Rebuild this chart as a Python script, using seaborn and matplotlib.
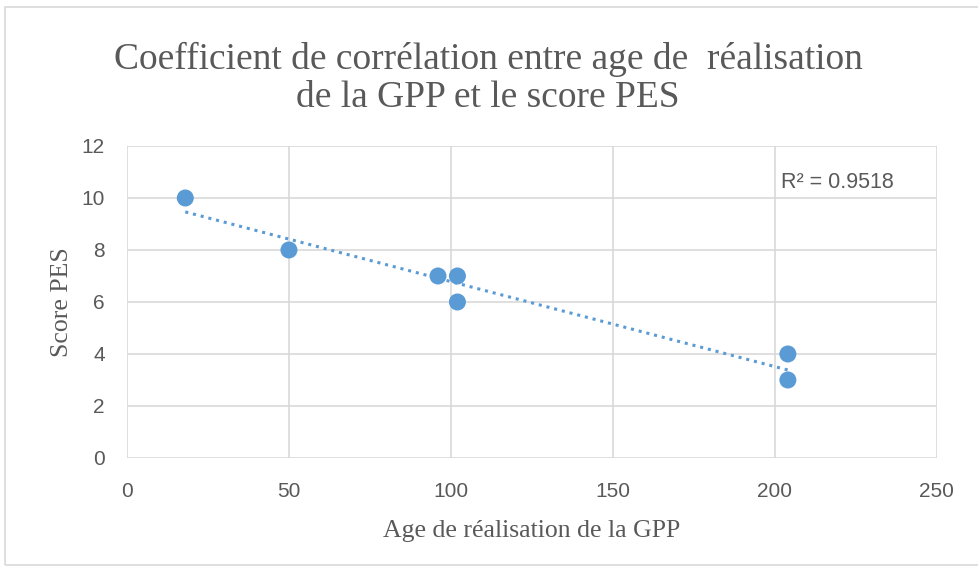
import matplotlib
matplotlib.use("Agg")
import matplotlib.pyplot as plt
import seaborn as sns
import pandas as pd
from matplotlib.patches import Rectangle

# Data
age_gpp = [18, 50, 96, 102, 102, 204, 204]
score_pes = [10, 8, 7, 7, 6, 4, 3]
x_ticks = [0, 50, 100, 150, 200, 250]
y_ticks = [0, 2, 4, 6, 8, 10, 12]
r2_label = "R² = 0.9518"

df = pd.DataFrame({"age": age_gpp, "score": score_pes})

blue = "#5B9BD5"
grid_col = "#D9D9D9"
text_col = "#595959"

sns.set_style("white")
plt.rcParams['font.family'] = ['Liberation Sans', 'DejaVu Sans']

fig = plt.figure(figsize=(9.79, 5.70), dpi=100)
ax = fig.add_axes([0.1297, 0.1965, 0.957 - 0.1297, 0.7439 - 0.1965])

sns.regplot(data=df, x="age", y="score", ax=ax, ci=None,
            scatter_kws=dict(s=150, color=blue, edgecolors="none", alpha=1, zorder=3),
            line_kws=dict(color=blue, linestyle=(0, (1, 1.6)), linewidth=2.2, zorder=2))

# trendline label
ax.text(202, 10.58, r2_label, fontsize=15.5, color=text_col,
        va="center", ha="left")

ax.set_xlim(0, 250)
ax.set_ylim(0, 12)
ax.set_xticks(x_ticks)
ax.set_yticks(y_ticks)
ax.grid(True, color=grid_col, linewidth=1.2)
ax.set_axisbelow(True)
for s in ax.spines.values():
    s.set_visible(False)
ax.tick_params(length=0, labelsize=15, colors=text_col)
ax.tick_params(axis="x", pad=17)
ax.tick_params(axis="y", pad=16)

ax.set_xlabel("Age de réalisation de la GPP", fontsize=18.5, color=text_col,
              family='Liberation Serif', labelpad=14)
ax.set_ylabel("Score PES", fontsize=18.5, color=text_col,
              family='Liberation Serif', labelpad=6)

fig.text(0.4985, 0.862, "Coefficient de corrélation entre age de  réalisation\nde la GPP et le score PES",
         ha="center", va="center", fontsize=27, color=text_col,
         family='Liberation Serif', linespacing=1.12)

# outer chart border
fig.patches.append(Rectangle((0.005, 0.008), 1.2, 0.98, transform=fig.transFigure,
                             fill=False, edgecolor=grid_col, linewidth=1.2))

fig.savefig("out.png", dpi=100)
